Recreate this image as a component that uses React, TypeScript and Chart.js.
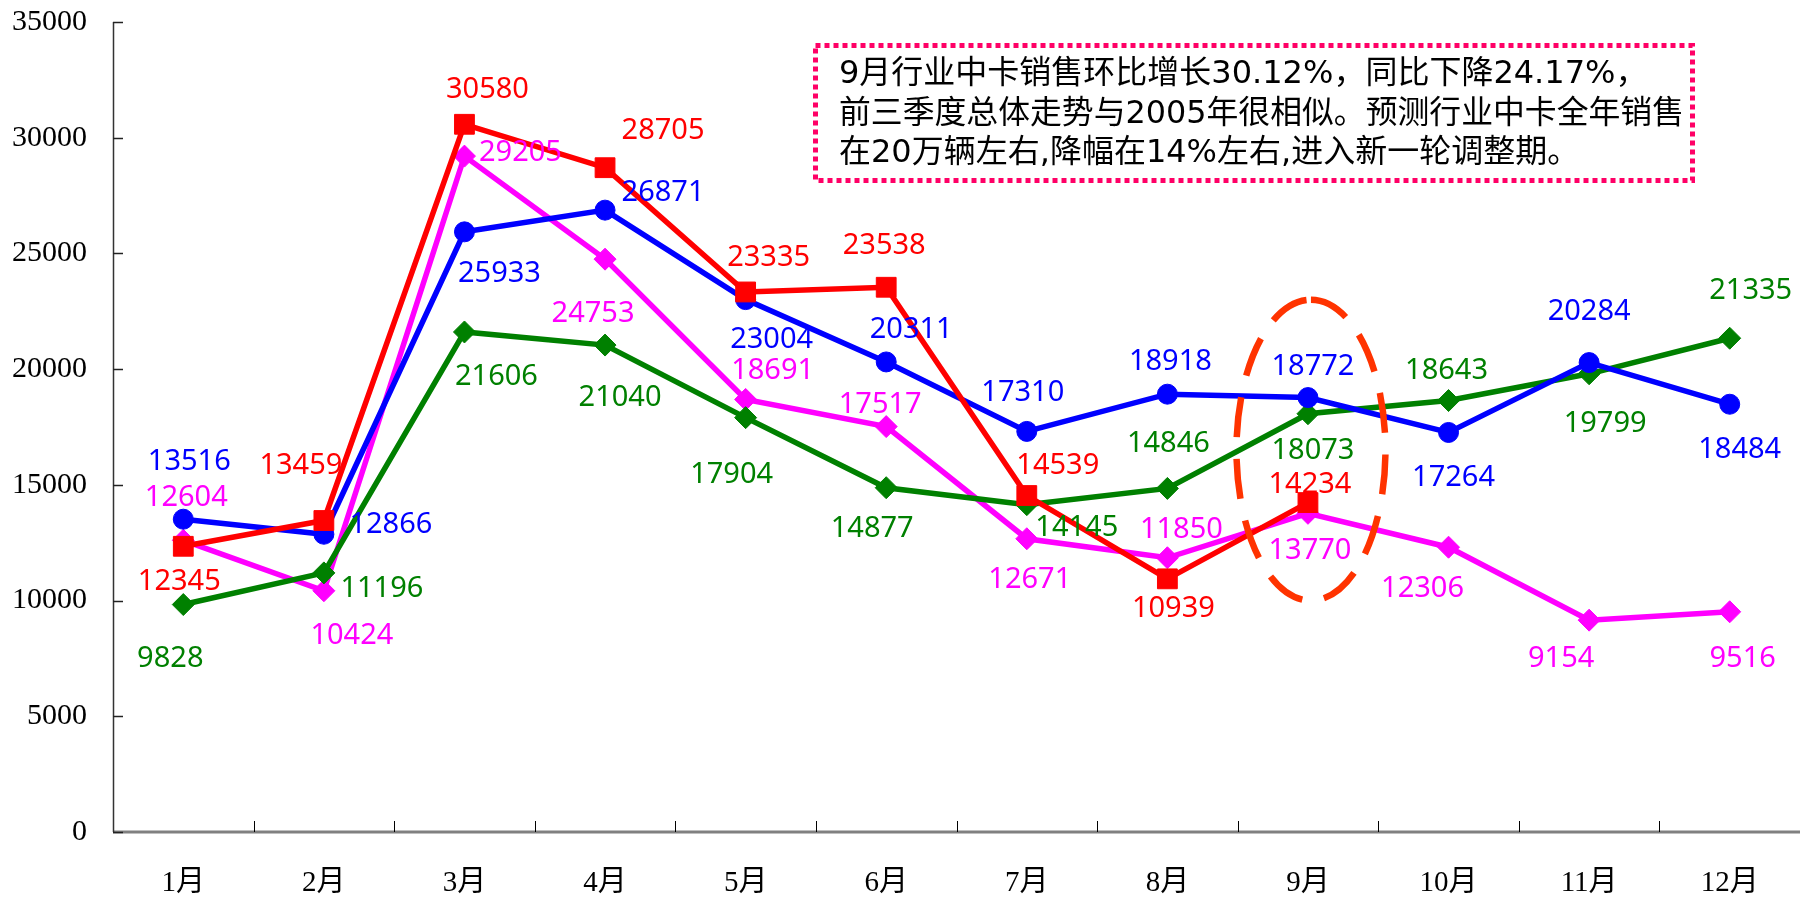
import React, { useEffect, useRef } from "react";
import { Chart, registerables } from "chart.js";

Chart.register(...registerables);

// ---------- data ----------
const months = ["1月", "2月", "3月", "4月", "5月", "6月", "7月", "8月", "9月", "10月", "11月", "12月"];
const yTickValues = [0, 5000, 10000, 15000, 20000, 25000, 30000, 35000];

const blueValues = [13516, 12866, 25933, 26871, 23004, 20311, 17310, 18918, 18772, 17264, 20284, 18484];
const redValues = [12345, 13459, 30580, 28705, 23335, 23538, 14539, 10939, 14234];
const magentaValues = [12604, 10424, 29205, 24753, 18691, 17517, 12671, 11850, 13770, 12306, 9154, 9516];
const greenValues = [9828, 11196, 21606, 21040, 17904, 14877, 14145, 14846, 18073, 18643, 19799, 21335];

const annotationLines = [
  "9月行业中卡销售环比增长30.12%，同比下降24.17%，",
  "前三季度总体走势与2005年很相似。预测行业中卡全年销售",
  "在20万辆左右,降幅在14%左右,进入新一轮调整期。",
];

// ---------- styles / label placement (pixel offsets from each point) ----------
const blueLabelOffsets = [[6, -57], [67, -10], [35, 42], [58, -17], [26, 40], [25, -32], [-4, -39], [3, -32], [5, -31], [5, 45], [0, -51], [10, 46]];
const redLabelOffsets = [[-4, 35], [-23, -55], [23, -35], [58, -37], [23, -34], [-2, -42], [31, -30], [6, 30], [2, -18]];
const magentaLabelOffsets = [[3, -43], [28, 45], [56, -3], [-12, 55], [27, -29], [-6, -22], [3, 41], [14, -28], [2, 37], [-26, 42], [-28, 39], [13, 47]];
const greenLabelOffsets = [[-13, 54], [58, 16], [32, 45], [15, 53], [-14, 57], [-14, 41], [50, 23], [1, -45], [5, 37], [-2, -30], [16, 50], [21, -48]];

const BLUE = "#0000FF";
const RED = "#FF0000";
const MAGENTA = "#FF00FF";
const GREEN = "#008000";

const ELLIPSE_CATEGORY = 8; // 9月
const ELLIPSE_RANGE = [10000, 23000];

const BOX = { left: 815.5, top: 45.5, width: 877, height: 135 };
const TEXT_X = 839;
const TEXT_Y = [75, 115, 154];
const TEXT_MAX_W = [832, 845, 780];

const annotationPlugin = {
  id: "decor",
  beforeDatasetsDraw(chart: any) {
    const ctx = chart.ctx;
    const { left, right, top, bottom } = chart.chartArea;
    const ys = chart.scales.y;
    ctx.save();
    // x axis line
    ctx.strokeStyle = "#808080";
    ctx.lineWidth = 3;
    ctx.beginPath();
    ctx.moveTo(left, bottom);
    ctx.lineTo(right, bottom);
    ctx.stroke();
    // y axis line
    ctx.strokeStyle = "#333333";
    ctx.lineWidth = 1.5;
    ctx.beginPath();
    ctx.moveTo(left + 0.5, top);
    ctx.lineTo(left + 0.5, bottom);
    ctx.stroke();
    // y ticks (inward)
    ctx.strokeStyle = "#222222";
    ctx.lineWidth = 1.5;
    yTickValues.forEach((v) => {
      const py = Math.round(ys.getPixelForValue(v)) + 0.5;
      ctx.beginPath();
      ctx.moveTo(left, py);
      ctx.lineTo(left + 10, py);
      ctx.stroke();
    });
    // x ticks (inward) at category boundaries
    ctx.strokeStyle = "#000000";
    ctx.lineWidth = 1;
    const w = (right - left) / months.length;
    for (let i = 1; i <= months.length; i++) {
      const px = Math.round(left + i * w) + 0.5;
      ctx.beginPath();
      ctx.moveTo(px, bottom);
      ctx.lineTo(px, bottom - 11);
      ctx.stroke();
    }
    ctx.restore();
  },
  afterDatasetsDraw(chart: any) {
    const ctx = chart.ctx;
    const xs = chart.scales.x;
    const ys = chart.scales.y;
    const { left, right } = chart.chartArea;
    const w = (right - left) / months.length;
    // dashed ellipse around 9月
    ctx.save();
    const cx = xs.getPixelForValue(ELLIPSE_CATEGORY) + 3;
    const yTop = ys.getPixelForValue(ELLIPSE_RANGE[1]);
    const yBot = ys.getPixelForValue(ELLIPSE_RANGE[0]);
    ctx.strokeStyle = "#FF3300";
    ctx.lineWidth = 6.5;
    ctx.setLineDash([40, 22]);
    ctx.beginPath();
    ctx.ellipse(cx, (yTop + yBot) / 2, w * 0.53, (yBot - yTop) / 2, 0, -Math.PI / 2, Math.PI * 1.5);
    ctx.stroke();
    ctx.restore();

    // data labels
    ctx.save();
    ctx.font = "29px 'Noto Sans'";
    ctx.textAlign = "center";
    ctx.textBaseline = "middle";
    chart.data.datasets.forEach((ds: any, di: number) => {
      const meta = chart.getDatasetMeta(di);
      const offs = ds.labelOffsets as number[][];
      ctx.fillStyle = ds.borderColor;
      meta.data.forEach((pt: any, i: number) => {
        const v = ds.data[i];
        if (v == null) return;
        const o = offs[i] || [0, -30];
        ctx.fillText(String(v), pt.x + o[0], pt.y + o[1]);
      });
    });
    ctx.restore();
  },
  afterDraw(chart: any) {
    const ctx = chart.ctx;
    ctx.save();
    // dotted box
    ctx.strokeStyle = "#FF0066";
    ctx.lineWidth = 5;
    ctx.setLineDash([5, 4]);
    ctx.strokeRect(BOX.left, BOX.top, BOX.width, BOX.height);
    ctx.setLineDash([]);
    // text
    ctx.fillStyle = "#000000";
    ctx.font = "32px 'DejaVu Sans', 'Noto Sans CJK SC'";
    ctx.textAlign = "left";
    ctx.textBaseline = "middle";
    annotationLines.forEach((t, i) => {
      ctx.fillText(t, TEXT_X, TEXT_Y[i], TEXT_MAX_W[i]);
    });
    ctx.restore();
  },
};

export default function App() {
  const ref = useRef<HTMLCanvasElement | null>(null);

  useEffect(() => {
    if (!ref.current) return;
    const mk = (label: string, data: number[], color: string, style: string, radius: number, order: number, offsets: number[][]) => ({
      label,
      data,
      borderColor: color,
      backgroundColor: color,
      pointBackgroundColor: color,
      pointBorderColor: color,
      pointBorderWidth: 1,
      pointStyle: style,
      pointRadius: radius,
      borderWidth: 5.5,
      tension: 0,
      fill: false,
      clip: false,
      order,
      labelOffsets: offsets,
    });
    const zeroPad = (s: any) => {
      s.paddingTop = 0;
      s.paddingBottom = 0;
      s.paddingLeft = 0;
      s.paddingRight = 0;
    };
    const chart = new Chart(ref.current, {
      type: "line",
      data: {
        labels: months,
        datasets: [
          mk("red", redValues, RED, "rect", 14, 0, redLabelOffsets),
          mk("blue", blueValues, BLUE, "circle", 10, 1, blueLabelOffsets),
          mk("green", greenValues, GREEN, "rectRot", 11, 2, greenLabelOffsets),
          mk("magenta", magentaValues, MAGENTA, "rectRot", 11, 3, magentaLabelOffsets),
        ] as any,
      },
      options: {
        responsive: false,
        animation: false,
        layout: { autoPadding: false, padding: { top: 22, right: 0, left: 0, bottom: 0 } },
        plugins: { legend: { display: false }, tooltip: { enabled: false } },
        scales: {
          x: {
            type: "category",
            offset: true,
            grid: { display: false, drawTicks: false },
            border: { display: false },
            ticks: {
              color: "#000000",
              font: { family: "'Liberation Serif', 'Noto Sans CJK SC'", size: 29 },
              padding: 34,
              maxRotation: 0,
            },
            afterFit: (s: any) => {
              s.height = 68;
              zeroPad(s);
            },
          },
          y: {
            min: 0,
            max: 35000,
            grid: { display: false, drawTicks: false },
            border: { display: false },
            ticks: {
              stepSize: 5000,
              color: "#000000",
              font: { family: "'Liberation Serif'", size: 30 },
              padding: 26,
              callback: (v: any) => String(v),
            },
            afterFit: (s: any) => {
              s.width = 113;
              zeroPad(s);
            },
          },
        },
      } as any,
      plugins: [annotationPlugin],
    });
    return () => chart.destroy();
  }, []);

  return (
    <div style={{ position: "absolute", left: 0, top: 0, width: 1800, height: 900, background: "#fff" }}>
      <canvas ref={ref} width={1800} height={900} style={{ display: "block" }} />
    </div>
  );
}
